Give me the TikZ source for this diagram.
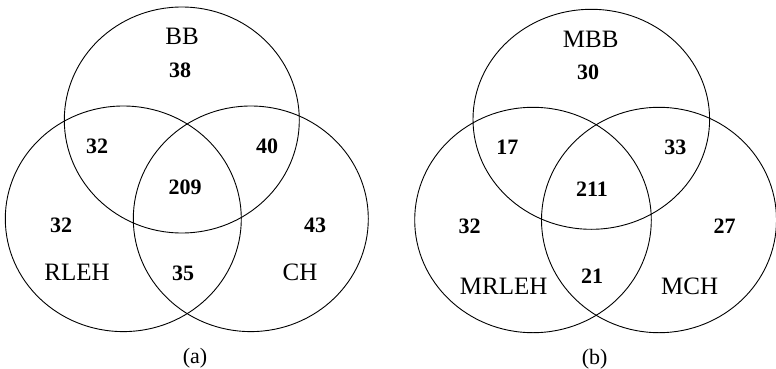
\documentclass[tikz,border=0pt]{standalone}
\usepackage{fontspec}
\setmainfont{Liberation Serif}
\begin{document}
\begin{tikzpicture}[x=1pt,y=-1pt,
  ring/.style={draw=black,line width=0.9pt},
  lbl/.style={font=\fontsize{25}{27}\selectfont,inner sep=0pt},
  num/.style={font=\fontsize{22}{24}\selectfont\bfseries,inner sep=0pt},
  subcap/.style={font=\fontsize{22}{24}\selectfont,inner sep=0pt}]
\useasboundingbox (0,0) rectangle (776,369);
% (a)
\draw[ring] (181.8,120) ellipse [x radius=117.5,y radius=113];
\draw[ring] (123.3,218.8) ellipse [x radius=118,y radius=112.8];
\draw[ring] (250.8,218.8) ellipse [x radius=117.5,y radius=112.8];
\node[lbl] (bb) at (182,36) {BB};
\node[num] (a1) at (180,70) {38};
\node[num] (a2) at (97,146) {32};
\node[num] (a3) at (267,146) {40};
\node[num] (a4) at (185,187) {209};
\node[num] (a5) at (61,225) {32};
\node[num] (a6) at (315,225) {43};
\node[lbl] (rleh) at (77,272) {RLEH};
\node[num] (a7) at (183,273) {35};
\node[lbl] (ch) at (300,272) {CH};
\node[subcap] (capa) at (195,358) {(a)};
% (b)
\draw[ring] (591.3,119.3) ellipse [x radius=118.3,y radius=110];
\draw[ring] (533,220) ellipse [x radius=118.3,y radius=112.7];
\draw[ring] (659,220) ellipse [x radius=117.5,y radius=112.7];
\node[lbl] (mbb) at (590.7,39.3) {MBB};
\node[num] (b1) at (588,72.7) {30};
\node[num] (b2) at (507.3,147.3) {17};
\node[num] (b3) at (675.3,147.3) {33};
\node[num] (b4) at (592,189.3) {211};
\node[num] (b5) at (469.7,226.7) {32};
\node[num] (b6) at (724.7,226.7) {27};
\node[lbl] (mrleh) at (503.7,286) {MRLEH};
\node[num] (b7) at (592,276) {21};
\node[lbl] (mch) at (689.7,286) {MCH};
\node[subcap] (capb) at (594.7,359.3) {(b)};
\end{tikzpicture}
\end{document}
